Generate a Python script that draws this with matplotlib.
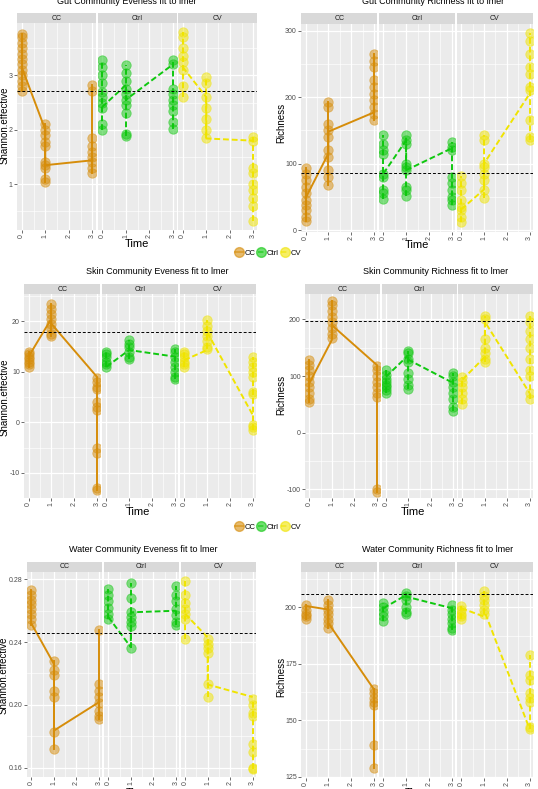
import matplotlib
matplotlib.use("Agg")
import matplotlib.pyplot as plt
from matplotlib.lines import Line2D

W, H = 538, 789
plt.rcParams["font.family"] = ["Liberation Sans", "DejaVu Sans"]

GROUPS = ["CC", "Ctrl", "CV"]
COLORS = {"CC": "#D68D0A", "Ctrl": "#0FC80F", "CV": "#F0E400"}
STYLES = {"CC": "-", "Ctrl": (0, (3, 1.5)), "CV": (0, (3, 1.5))}
TIMES = [0, 1, 2, 3]

# ---- gut evenness ----
gut_even_pts = {
    "CC": {0: [3.76, 3.7, 3.6, 3.5, 3.4, 3.3, 3.2, 3.1, 3.0, 2.9, 2.8, 2.72],
           1: [2.11, 2.0, 1.9, 1.78, 1.7, 1.4, 1.35, 1.3, 1.1, 1.04],
           3: [2.82, 2.72, 1.85, 1.7, 1.6, 1.5, 1.4, 1.3, 1.2]},
    "Ctrl": {0: [3.28, 3.15, 3.0, 2.85, 2.7, 2.6, 2.5, 2.4, 2.1, 1.99],
             1: [3.18, 3.05, 2.9, 2.75, 2.65, 2.55, 2.45, 2.3, 1.92, 1.88],
             3: [3.28, 3.2, 2.75, 2.65, 2.55, 2.45, 2.35, 2.15, 2.02]},
    "CV": {0: [3.8, 3.7, 3.5, 3.35, 3.25, 3.1, 2.8, 2.6],
           1: [2.97, 2.85, 2.6, 2.4, 2.2, 2.0, 1.85],
           3: [1.87, 1.8, 1.3, 1.2, 1.0, 0.9, 0.75, 0.6, 0.33]},
}
gut_even_fit = {
    "CC": [(0, 3.15), (1, 2.0), (1, 1.35), (3, 1.44)],
    "Ctrl": [(0, 2.42), (1, 2.82), (1, 2.55), (3, 3.2)],
    "CV": [(0, 3.15), (1, 2.6), (1, 1.84), (3, 1.8)],
}
gut_even_ref = 2.72

# ---- gut richness ----
gut_rich_pts = {
    "CC": {0: [93, 85, 75, 65, 55, 45, 38, 30, 20, 13],
           1: [192, 185, 160, 150, 140, 120, 110, 90, 80, 68],
           3: [265, 255, 245, 225, 215, 205, 195, 185, 175, 166]},
    "Ctrl": {0: [143, 130, 120, 115, 85, 80, 60, 55, 46],
             1: [143, 135, 130, 100, 95, 90, 65, 60, 51],
             3: [133, 125, 120, 80, 70, 60, 50, 45, 38]},
    "CV": {0: [82, 70, 60, 45, 35, 30, 20, 12],
           1: [143, 135, 100, 95, 85, 75, 60, 48],
           3: [296, 285, 265, 245, 235, 215, 210, 165, 140, 135]},
}
gut_rich_fit = {
    "CC": [(0, 48), (1, 115), (1, 148), (3, 177)],
    "Ctrl": [(0, 85), (1, 135), (1, 90), (3, 123)],
    "CV": [(0, 31), (1, 61), (1, 100), (3, 205)],
}
gut_rich_ref = 85.4

# ---- skin evenness ----
skin_even_pts = {
    "CC": {0: [14, 13.5, 13, 12.5, 12, 11.5, 11],
           1: [23.5, 22.5, 21.5, 20.5, 19.5, 18.5, 17.5, 17],
           3: [8.7, 8, 7, 6.5, 4, 3, 2.5, -5, -6, -13, -13.5]},
    "Ctrl": {0: [14, 13.5, 13, 12, 11.5, 11],
             1: [16.2, 15.5, 15, 14, 13, 12.5],
             3: [14.5, 14, 13, 12, 11, 10, 9, 8.5]},
    "CV": {0: [14, 13.5, 13, 12, 11.5, 11],
           1: [20.3, 19, 18, 17, 16, 15, 14.5],
           3: [13, 12, 11, 10, 9, 6, 5.5, -0.5, -1, -1.5]},
}
skin_even_fit = {
    "CC": [(0, 13), (1, 20.5), (1, 19.5), (3, 9)],
    "Ctrl": [(0, 11), (1, 14.3), (1, 14.3), (3, 13)],
    "CV": [(0, 12.3), (1, 14.3), (1, 17.9), (3, 1.5)],
}
skin_even_ref = 17.9

# ---- skin richness ----
skin_rich_pts = {
    "CC": {0: [128, 120, 110, 100, 90, 80, 70, 60, 55],
           1: [232, 225, 215, 205, 195, 185, 175, 168],
           3: [118, 110, 100, 90, 80, 70, 63, -100, -105]},
    "Ctrl": {0: [110, 102, 95, 90, 85, 80, 75, 70],
             1: [145, 140, 130, 125, 105, 95, 85, 78],
             3: [105, 100, 90, 80, 70, 60, 45, 38]},
    "CV": {0: [98, 90, 80, 70, 60, 50],
           1: [206, 200, 165, 150, 140, 130, 125],
           3: [206, 195, 180, 165, 150, 130, 110, 100, 70, 60]},
}
skin_rich_fit = {
    "CC": [(0, 88), (1, 164), (1, 190), (3, 120)],
    "Ctrl": [(0, 99), (1, 137), (1, 129), (3, 88)],
    "CV": [(0, 94), (1, 134), (1, 196), (3, 70)],
}
skin_rich_ref = 197.7

# ---- water evenness ----
water_even_pts = {
    "CC": {0: [0.273, 0.27, 0.267, 0.264, 0.261, 0.258, 0.255, 0.251],
           1: [0.228, 0.222, 0.219, 0.209, 0.205, 0.183, 0.172],
           3: [0.248, 0.213, 0.209, 0.205, 0.201, 0.196, 0.193, 0.191]},
    "Ctrl": {0: [0.274, 0.27, 0.266, 0.262, 0.258, 0.255],
             1: [0.278, 0.268, 0.259, 0.256, 0.253, 0.25, 0.236],
             3: [0.276, 0.27, 0.266, 0.261, 0.257, 0.253, 0.251]},
    "CV": {0: [0.279, 0.27, 0.265, 0.261, 0.258, 0.255, 0.242],
           1: [0.242, 0.239, 0.236, 0.233, 0.213, 0.205],
           3: [0.204, 0.2, 0.195, 0.193, 0.175, 0.17, 0.16, 0.159]},
}
water_even_fit = {
    "CC": [(0, 0.2517), (1, 0.226), (1, 0.1836), (3, 0.2017)],
    "Ctrl": [(0, 0.256), (1, 0.2368), (1, 0.259), (3, 0.26)],
    "CV": [(0, 0.258), (1, 0.243), (1, 0.213), (3, 0.205)],
}
water_even_ref = 0.2457

# ---- water richness ----
water_rich_pts = {
    "CC": {0: [201, 199, 197, 196, 195],
           1: [203, 201, 199, 197, 195, 193, 191],
           3: [164, 162, 160, 158, 157, 139, 129]},
    "Ctrl": {0: [202, 200, 198, 196, 194],
             1: [206.5, 205, 203, 200, 198, 197],
             3: [201, 199, 197, 195, 193, 191, 190]},
    "CV": {0: [200.5, 199, 197, 196, 195],
           1: [207, 205, 203, 201, 199, 197],
           3: [179, 170, 168, 162, 160, 158, 147, 146]},
}
water_rich_fit = {
    "CC": [(0, 200.6), (1, 199), (1, 193), (3, 163.7)],
    "Ctrl": [(0, 199.6), (1, 205.4), (1, 204.7), (3, 199.6)],
    "CV": [(0, 199.6), (1, 195.9), (1, 198.8), (3, 146.2)],
}
water_rich_ref = 205.8


def px_box(l, r, t, b):
    return [l / W, 1 - b / H, (r - l) / W, (b - t) / H]


def draw_panel(fig, box, pts, fit, ref, ylim, yticks, ylabels, yminor,
               title, title_xy, ylabel, ylabel_xy, xlabel_xy):
    left, right, top, bottom, strip_h = box
    gap = 1.5
    fw = (right - left - 2 * gap) / 3
    for i, g in enumerate(GROUPS):
        l = left + i * (fw + gap)
        r = l + fw
        ax = fig.add_axes(px_box(l, r, top, bottom))
        ax.set_facecolor("#EBEBEB")
        for s in ax.spines.values():
            s.set_visible(False)
        ax.set_xlim(-0.2, 3.15)
        ax.set_ylim(*ylim)
        ax.set_xticks(TIMES)
        ax.set_xticklabels([str(t) for t in TIMES], rotation=90)
        ax.set_xticks([0.5, 1.5, 2.5], minor=True)
        ax.set_yticks(yticks)
        ax.set_yticklabels(ylabels)
        ax.set_yticks(yminor, minor=True)
        ax.grid(which="major", color="white", lw=0.9)
        ax.grid(which="minor", color="white", lw=0.45)
        ax.set_axisbelow(True)
        ax.tick_params(which="major", length=2, width=0.5, color="#333333",
                       labelsize=5, labelcolor="#4D4D4D", pad=1)
        ax.tick_params(which="minor", length=0)
        if i > 0:
            ax.tick_params(axis="y", left=False, labelleft=False)

        c = COLORS[g]
        ls = STYLES[g]
        for t, vals in pts[g].items():
            ax.plot([t, t], [min(vals), max(vals)], color=c, ls=ls, lw=1.4, zorder=2)
            ax.scatter([t] * len(vals), vals, s=46, color=c, alpha=0.5,
                       edgecolors=c, linewidths=0.6, zorder=3)
        ax.plot([p[0] for p in fit[g]], [p[1] for p in fit[g]],
                color=c, ls=ls, lw=1.4, zorder=2)
        ax.axhline(ref, color="black", ls=(0, (3, 2)), lw=0.7, zorder=4)

        sax = fig.add_axes(px_box(l, r, top - strip_h, top))
        sax.set_facecolor("#D9D9D9")
        sax.set_xticks([])
        sax.set_yticks([])
        for s in sax.spines.values():
            s.set_visible(False)
        sax.text(0.5, 0.5, g, ha="center", va="center", fontsize=5, color="#1A1A1A")

    fig.text(title_xy[0] / W, 1 - title_xy[1] / H, title, ha="center", va="center",
             fontsize=6.5)
    fig.text(ylabel_xy[0] / W, 1 - ylabel_xy[1] / H, ylabel, rotation=90,
             ha="center", va="center", fontsize=7)
    fig.text(xlabel_xy[0] / W, 1 - xlabel_xy[1] / H, "Time", ha="center",
             va="center", fontsize=8)


def add_legend(fig, y):
    handles = [Line2D([0], [0], color=COLORS[g], ls=STYLES[g], lw=1.3, marker="o",
                      ms=7, alpha=0.6) for g in GROUPS]
    fig.legend(handles, GROUPS, loc="center", bbox_to_anchor=(268 / W, 1 - y / H),
               ncol=3, frameon=False, fontsize=5.5, handlelength=1.0,
               columnspacing=0.3, handletextpad=0.2)


def main():
    fig = plt.figure(figsize=(W / 100, H / 100), dpi=100)

    draw_panel(fig, (17, 257, 23, 230, 10), gut_even_pts, gut_even_fit, gut_even_ref,
               (0.16, 3.96), [1, 2, 3], ["1", "2", "3"], [0.5, 1.5, 2.5, 3.5],
               "Gut Community Eveness fit to lmer", (127, 1),
               "Shannon.effective", (5, 125), (137, 244))
    draw_panel(fig, (301, 533, 24, 232, 11), gut_rich_pts, gut_rich_fit, gut_rich_ref,
               (-3, 310), [0, 100, 200, 300], ["0", "100", "200", "300"], [50, 150, 250],
               "Gut Community Richness fit to lmer", (433, 1),
               "Richness", (281, 123), (417, 245))
    add_legend(fig, 253)

    draw_panel(fig, (24, 256, 294, 498, 10), skin_even_pts, skin_even_fit, skin_even_ref,
               (-15, 25.4), [-10, 0, 10, 20], ["-10", "0", "10", "20"], [-5, 5, 15, 25],
               "Skin Community Eveness fit to lmer", (157, 271),
               "Shannon.effective", (5, 397), (138, 512))
    draw_panel(fig, (305, 533, 294, 498, 10), skin_rich_pts, skin_rich_fit, skin_rich_ref,
               (-115, 245), [-100, 0, 100, 200], ["-100", "0", "100", "200"], [-50, 50, 150],
               "Skin Community Richness fit to lmer", (436, 271),
               "Richness", (281, 395), (413, 512))
    add_legend(fig, 527)

    draw_panel(fig, (27, 256, 572, 777, 10), water_even_pts, water_even_fit, water_even_ref,
               (0.154, 0.2847), [0.16, 0.20, 0.24, 0.28], ["0.16", "0.20", "0.24", "0.28"],
               [0.18, 0.22, 0.26], "Water Community Eveness fit to lmer", (143, 549),
               "Shannon.effective", (4, 675), (138, 793))
    draw_panel(fig, (301, 533, 572, 778, 10), water_rich_pts, water_rich_fit, water_rich_ref,
               (124.5, 215.6), [125, 150, 175, 200], ["125", "150", "175", "200"],
               [137.5, 162.5, 187.5, 212.5], "Water Community Richness fit to lmer", (438, 549),
               "Richness", (281, 677), (417, 793))

    fig.savefig("out.png", dpi=100)
    plt.close(fig)


if __name__ == "__main__":
    main()
